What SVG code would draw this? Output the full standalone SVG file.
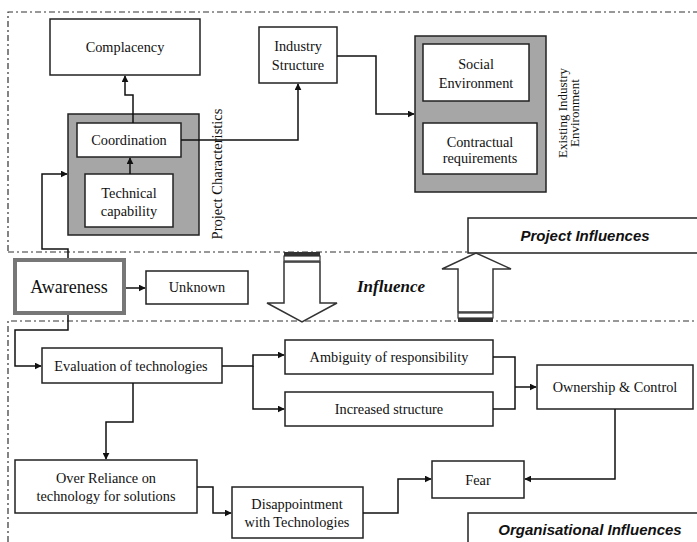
<svg xmlns="http://www.w3.org/2000/svg" width="697" height="542" viewBox="0 0 697 542">
<defs>
<style>
.bx{fill:#fff;stroke:#222;stroke-width:1.5}
.gb{fill:#a6a6a6;stroke:#222;stroke-width:1.5}
.t{font-family:"Liberation Serif","Times New Roman",serif;font-size:14.3px;fill:#111;text-anchor:middle}
.c{fill:none;stroke:#111;stroke-width:1.5}
.dd{fill:none;stroke:#333;stroke-width:1.2;stroke-dasharray:6 3 2 3}
.h{font-family:"Liberation Sans",Arial,sans-serif;font-size:15px;font-weight:bold;font-style:italic;fill:#111;text-anchor:middle}
.ar{fill:#fff;stroke:#333;stroke-width:1.5}
</style>
<marker id="a" viewBox="0 0 10 10" refX="9" refY="5" markerWidth="7" markerHeight="7" orient="auto" markerUnits="userSpaceOnUse"><path d="M0,0 L10,5 L0,10 z" fill="#111"/></marker>
</defs>
<rect width="697" height="542" fill="#fff"/>
<g id="borders">
<path class="dd" d="M8,251 V12 H697"/>
<path class="dd" d="M8,252 H697"/>
<path class="dd" d="M8,542 V321 H697"/>
</g>
<g id="project-influences"><path class="bx" d="M700,218 H468 V253 H700"/><text class="h" x="585" y="241">Project Influences</text></g>
<g id="organisational-influences"><path class="bx" d="M700,513 H468 V545"/><text class="h" x="590" y="535">Organisational Influences</text></g>
<g id="complacency"><rect class="bx" x="50" y="19" width="150" height="56"/><text class="t" x="125" y="52">Complacency</text></g>
<g id="industry-structure"><rect class="bx" x="259" y="27" width="78" height="56"/><text class="t" x="298" y="51">Industry</text><text class="t" x="298" y="70">Structure</text></g>
<g id="project-characteristics">
<rect class="gb" x="68" y="114" width="131" height="121"/>
<text class="t" transform="translate(222,174) rotate(-90)" style="font-size:14.5px">Project Characteristics</text>
</g>
<g id="coordination"><rect class="bx" x="77" y="123" width="104" height="34"/><text class="t" x="129" y="145">Coordination</text></g>
<g id="technical-capability"><rect class="bx" x="85" y="174" width="88" height="53"/><text class="t" x="129" y="198">Technical</text><text class="t" x="129" y="216">capability</text></g>
<g id="existing-industry-environment">
<rect class="gb" x="415" y="36" width="131" height="156"/>
<text class="t" transform="translate(567,113) rotate(-90)" style="font-size:13px">Existing Industry</text>
<text class="t" transform="translate(579,113) rotate(-90)" style="font-size:13px">Environment</text>
</g>
<g id="social-environment"><rect class="bx" x="423" y="44" width="106" height="57"/><text class="t" x="476" y="69">Social</text><text class="t" x="476" y="88">Environment</text></g>
<g id="contractual-requirements"><rect class="bx" x="423" y="123" width="114" height="51"/><text class="t" x="480" y="147">Contractual</text><text class="t" x="480" y="163">requirements</text></g>
<g id="awareness"><rect x="15" y="260" width="109" height="53" fill="#fff" stroke="#777" stroke-width="4"/><text class="t" x="69" y="293" style="font-size:18px">Awareness</text></g>
<g id="unknown"><rect class="bx" x="146" y="271" width="102" height="33"/><text class="t" x="197" y="292">Unknown</text></g>
<g id="influence-label"><text x="391" y="292" style="font-family:'Liberation Serif','Times New Roman',serif;font-size:17px;font-weight:bold;font-style:italic;fill:#111" text-anchor="middle">Influence</text></g>
<g id="down-arrow">
<rect x="284" y="252" width="36" height="4" fill="#333"/>
<rect x="284" y="256" width="36" height="5" fill="#fff" stroke="#333" stroke-width="1.2"/>
<path class="ar" d="M284,262 H320 V303 H337 L302,322 L267,303 H284 Z"/>
</g>
<g id="up-arrow">
<path class="ar" d="M458,312 H493 V269 H511 L476,253 L442,269 H458 Z"/>
<rect x="458" y="313" width="35" height="5" fill="#fff" stroke="#333" stroke-width="1.2"/>
<rect x="458" y="318" width="35" height="4" fill="#333"/>
</g>
<g id="evaluation"><rect class="bx" x="42" y="348" width="180" height="35"/><text class="t" x="131" y="371">Evaluation of technologies</text></g>
<g id="ambiguity"><rect class="bx" x="285" y="340" width="208" height="34"/><text class="t" x="389" y="362">Ambiguity of responsibility</text></g>
<g id="increased-structure"><rect class="bx" x="285" y="392" width="208" height="34"/><text class="t" x="389" y="414">Increased structure</text></g>
<g id="ownership"><rect class="bx" x="537" y="365" width="156" height="44"/><text class="t" x="615" y="392">Ownership &amp; Control</text></g>
<g id="fear"><rect class="bx" x="432" y="461" width="92" height="37"/><text class="t" x="478" y="485">Fear</text></g>
<g id="over-reliance"><rect class="bx" x="15" y="460" width="182" height="53"/><text class="t" x="106" y="483">Over Reliance on</text><text class="t" x="106" y="501">technology for solutions</text></g>
<g id="disappointment"><rect class="bx" x="232" y="487" width="131" height="51"/><text class="t" x="297" y="509">Disappointment</text><text class="t" x="297" y="527">with Technologies</text></g>
<g id="connectors">
<path class="c" d="M133,123 V95 H125 V76" marker-end="url(#a)"/>
<path class="c" d="M130,174 V158" marker-end="url(#a)"/>
<path class="c" d="M181,140 H298 V84" marker-end="url(#a)"/>
<path class="c" d="M337,56 H376 V114 H414" marker-end="url(#a)"/>
<path class="c" d="M68,258 V249 H42 V174 H67" marker-end="url(#a)"/>
<path class="c" d="M126,288 H145" marker-end="url(#a)"/>
<path class="c" d="M68,315 V330 H15 V366 H41" marker-end="url(#a)"/>
<path class="c" d="M222,366 H253 V355 H284" marker-end="url(#a)"/>
<path class="c" d="M253,366 V409 H284" marker-end="url(#a)"/>
<path class="c" d="M493,357 H515 V409 H493"/>
<path class="c" d="M515,387 H536" marker-end="url(#a)"/>
<path class="c" d="M615,409 V479 H525" marker-end="url(#a)"/>
<path class="c" d="M133,383 V422 H106 V459" marker-end="url(#a)"/>
<path class="c" d="M197,487 H213 V513 H231" marker-end="url(#a)"/>
<path class="c" d="M363,513 H398 V479 H431" marker-end="url(#a)"/>
</g>
</svg>
